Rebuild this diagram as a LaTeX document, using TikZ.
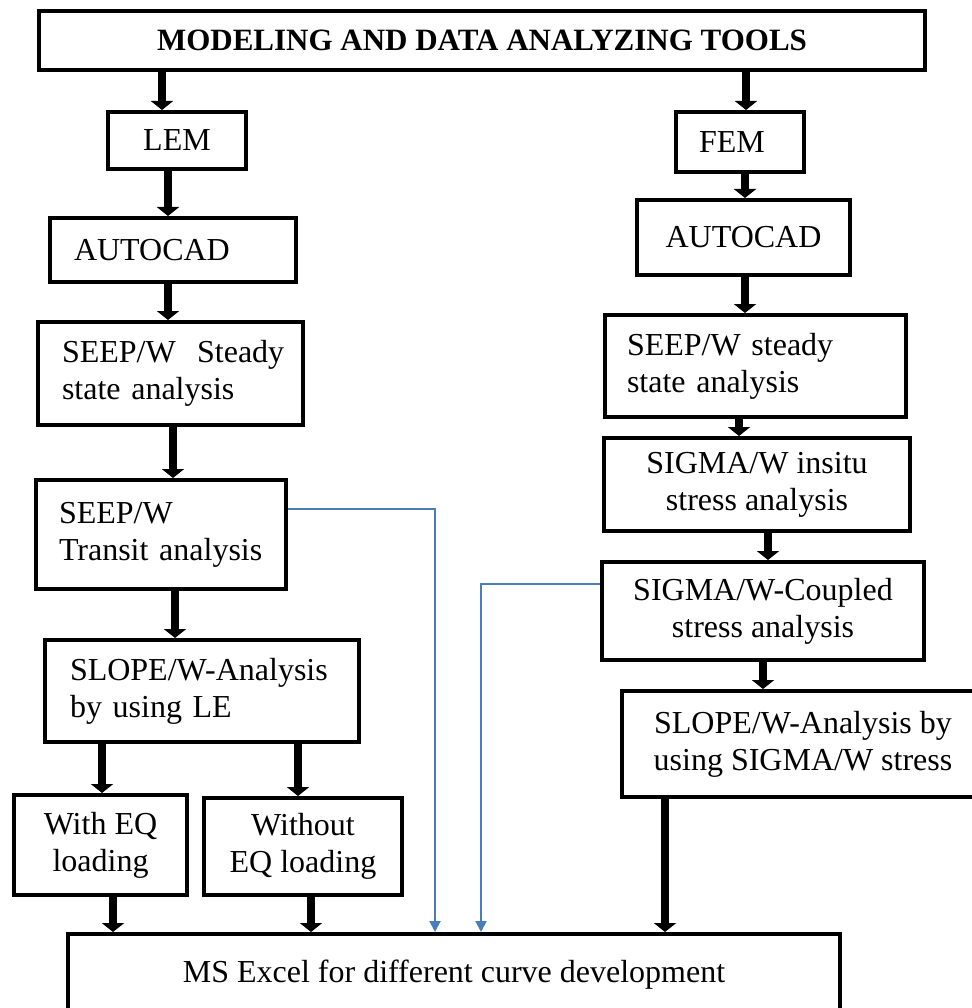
\documentclass[tikz,border=0pt]{standalone}
\usepackage{fontspec}
\setmainfont{Liberation Serif}
\usetikzlibrary{arrows.meta}
\definecolor{lnblue}{HTML}{4A7EBB}
\tikzset{
  box/.style={draw=black, line width=4pt, fill=white, inner sep=0pt, anchor=north west,
              font=\fontsize{32}{37}\selectfont},
  cbox/.style={box, align=center},
  lbox/.style={box, align=left, inner xsep=8pt},
  thickarr/.style={draw=black, line width=8pt, -{Triangle[width=22pt,length=9pt]}},
  bluearr/.style={draw=lnblue, line width=2pt, -{Triangle[width=11pt,length=11pt]}},
}
\begin{document}
\begin{tikzpicture}[x=1pt,y=-1pt]
\useasboundingbox (0,0) rectangle (971,1008);

\node[cbox, font=\fontsize{31}{37}\selectfont\bfseries, minimum width=886, minimum height=59] (title) at (37,9) {MODELING AND DATA ANALYZING TOOLS};

% left column
\node[cbox, minimum width=138, minimum height=57] (lem) at (106,110) {LEM};
\node[lbox, text width=230, minimum height=64] (acL) at (48,216) {\hspace*{16pt}AUTOCAD};
\node[lbox, text width=249, minimum height=103] (stL) at (36,320) {\hspace*{16pt}SEEP/W\ \ Steady\\\hspace*{16pt}state analysis};
\node[lbox, text width=234, minimum height=109] (trL) at (34,478) {\hspace*{15pt}SEEP/W\\\hspace*{15pt}Transit analysis};
\node[lbox, text width=298, minimum height=102] (slL) at (43,638) {\hspace*{17pt}SLOPE/W-Analysis\\\hspace*{17pt}by using LE};
\node[cbox, minimum width=173, minimum height=100] (wEQ) at (12,793) {With EQ\\loading};
\node[cbox, minimum width=198, minimum height=97] (woEQ) at (202,796) {Without\\EQ loading};

% right column
\node[lbox, text width=112, minimum height=60] (fem) at (674,110) {\hspace*{15pt}FEM};
\node[cbox, minimum width=213, minimum height=75] (acR) at (635,198) {AUTOCAD};
\node[lbox, text width=285, minimum height=102] (stR) at (603,313) {\hspace*{14pt}SEEP/W steady\\\hspace*{14pt}state analysis};
\node[cbox, minimum width=306, minimum height=93] (ins) at (602,436) {SIGMA/W insitu\\stress analysis};
\node[cbox, minimum width=322, minimum height=98] (cpl) at (600,560) {SIGMA/W-Coupled\\stress analysis};
\node[cbox, minimum width=362, minimum height=106] (slR) at (620,689) {SLOPE/W-Analysis by\\using SIGMA/W stress};

% bottom
\node[cbox, minimum width=772, minimum height=82] (excel) at (66,932) {MS Excel for different curve development};

% black arrows
\draw[thickarr] (title.south -| 162,0) -- (lem.north -| 162,0);
\draw[thickarr] (title.south -| 746,0) -- (fem.north -| 746,0);
\draw[thickarr] (lem.south -| 168,0) -- (acL.north -| 168,0);
\draw[thickarr] (acL.south -| 168,0) -- (stL.north -| 168,0);
\draw[thickarr] (stL.south -| 173,0) -- (trL.north -| 173,0);
\draw[thickarr] (trL.south -| 175,0) -- (slL.north -| 175,0);
\draw[thickarr] (slL.south -| 102,0) -- (wEQ.north -| 102,0);
\draw[thickarr] (slL.south -| 298,0) -- (woEQ.north -| 298,0);
\draw[thickarr] (wEQ.south -| 113,0) -- (excel.north -| 113,0);
\draw[thickarr] (woEQ.south -| 311,0) -- (excel.north -| 311,0);
\draw[thickarr] (fem.south -| 745,0) -- (acR.north -| 745,0);
\draw[thickarr] (acR.south -| 745,0) -- (stR.north -| 745,0);
\draw[thickarr] (stR.south -| 739,0) -- (ins.north -| 739,0);
\draw[thickarr] (ins.south -| 768,0) -- (cpl.north -| 768,0);
\draw[thickarr] (cpl.south -| 763,0) -- (slR.north -| 763,0);
\draw[thickarr] (slR.south -| 665,0) -- (excel.north -| 665,0);

% blue connectors
\draw[bluearr] (trL.east |- 0,509) -| (excel.north -| 435,0);
\draw[bluearr] (cpl.west |- 0,584) -| (excel.north -| 481,0);
\end{tikzpicture}
\end{document}
